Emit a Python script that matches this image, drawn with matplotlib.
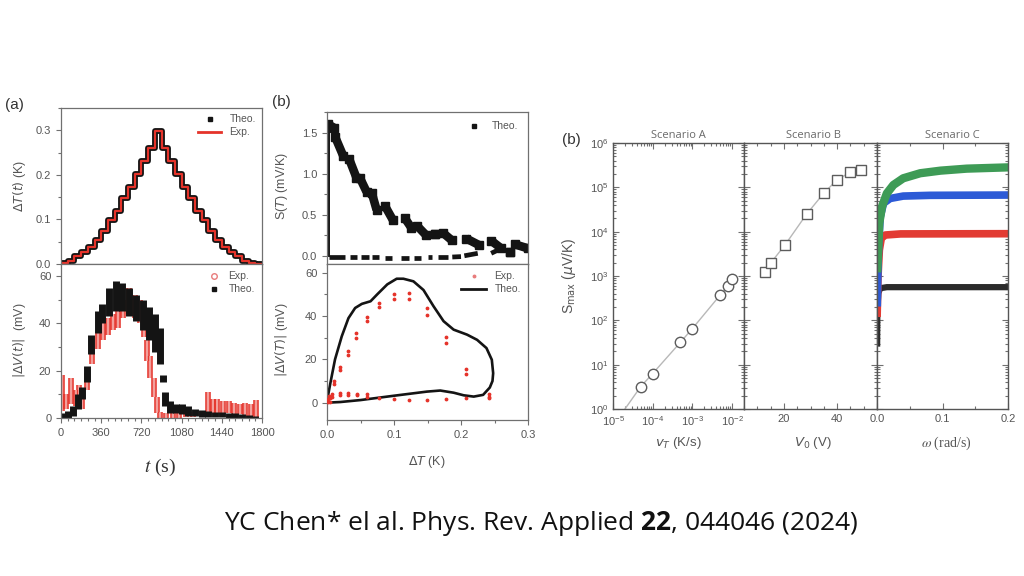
"""Recreation of the thermoelectric response panels with citation line."""

import matplotlib

matplotlib.use("Agg")

import matplotlib.pyplot as plt
from matplotlib.lines import Line2D
from matplotlib.ticker import LogLocator, MultipleLocator, NullFormatter, FixedLocator

W, H = 1024, 576

C_INK = "#141414"
C_TEXT = "#555555"
C_EDGE = "#707070"
C_RED = "#e5332a"
C_PINK = "#e87c7c"
C_LINE = "#b8b8b8"
C_MARK = "#5c5c5c"
C_GREEN = "#3e9b56"
C_BLUE = "#2c5ad6"
C_CRED = "#e23b33"
C_BLACK = "#2b2b2b"

# (a) top: temperature staircase, one level per 60 s step
STEP_T = [0, 60, 120, 180, 240, 300, 360, 420, 480, 540, 600, 660, 720, 780, 840,
          900, 960, 1020, 1080, 1140, 1200, 1260, 1320, 1380, 1440, 1500, 1560, 1620, 1680, 1740]
DT_LEVEL = [0.0015, 0.0075, 0.017, 0.028, 0.039, 0.054, 0.075, 0.098, 0.12, 0.147, 0.173,
            0.203, 0.23, 0.26, 0.298, 0.26, 0.23, 0.203, 0.173, 0.147, 0.12, 0.098, 0.075,
            0.054, 0.039, 0.028, 0.017, 0.0075, 0.0015, 0.0]

# (a) bottom: |dV(t)| clouds, one column per time slot (low / high)
THEO_T = [15, 60, 105, 150, 190, 232, 270, 330, 370, 430, 489, 550, 610, 670, 730, 790,
          845, 890, 913, 935, 980, 1030, 1080, 1140, 1200, 1260, 1320, 1380, 1440, 1500,
          1560, 1620, 1680, 1740]
THEO_LO = [0, 0, 1, 4, 8, 15, 27, 36, 40, 43, 45, 45, 43, 41, 37, 33, 28, 23, 15, 5, 2, 2,
           1.5, 1, 1, 0.5, 0.5, 0.3, 0.3, 0.2, 0.2, 0.1, 0.1, 0]
THEO_HI = [2, 3, 5, 10, 13, 22, 35, 45, 48, 55, 58, 57, 55, 52, 50, 47, 44, 38, 18, 11, 7,
           6, 6, 5, 4, 3.5, 3, 2.5, 2.5, 2, 2, 1.5, 1.2, 1]

EXP_T = [12, 44, 89, 133, 163, 190, 230, 280, 330, 375, 420, 465, 510, 555, 610, 665, 710,
         740, 770, 800, 830, 860, 890, 940, 1000, 1060, 1120, 1180, 1240, 1319, 1360, 1400,
         1450, 1500, 1550, 1600, 1650, 1700, 1750]
EXP_LO = [3, 4, 6, 5, 7, 4, 12, 23, 29, 33, 35, 37, 38, 42, 44, 42, 40, 34, 24, 17, 9, 2, 0,
          0, 0, 0, 0.5, 0.5, 1, 2, 2, 2, 2, 2, 1.5, 1.5, 1, 1, 0.5]
EXP_HI = [18, 10, 17, 12, 14, 9, 19, 29, 36, 40, 42, 44, 47, 50, 55, 52, 50, 45, 33, 26, 17,
          9, 2.5, 2, 2, 2, 2, 2.5, 3, 11, 8, 8, 7, 7, 6.5, 6, 6.5, 6, 7.5]

# (b) top: S(T) branches drawn as short thick dashes (x0, x1, y0, y1)
UP_X0 = [0.002, 0.012, 0.033, 0.049, 0.067, 0.087, 0.116, 0.135, 0.161, 0.173, 0.208, 0.245, 0.273, 0.28]
UP_X1 = [0.010, 0.024, 0.044, 0.059, 0.074, 0.098, 0.126, 0.148, 0.161, 0.186, 0.227, 0.26, 0.273, 0.30]
UP_Y0 = [1.60, 1.45, 1.18, 0.95, 0.76, 0.60, 0.46, 0.36, 0.27, 0.28, 0.21, 0.185, 0.05, 0.14]
UP_Y1 = [1.56, 1.22, 0.95, 0.78, 0.56, 0.44, 0.34, 0.25, 0.27, 0.19, 0.13, 0.09, 0.05, 0.09]
LO_X0 = [0.003, 0.035, 0.05, 0.067, 0.087, 0.11, 0.13, 0.15, 0.165, 0.187, 0.205, 0.245]
LO_X1 = [0.027, 0.045, 0.062, 0.077, 0.097, 0.122, 0.14, 0.157, 0.18, 0.2, 0.225, 0.263]
LO_Y0 = [-0.01, -0.02, -0.02, -0.02, -0.025, -0.025, -0.025, -0.02, -0.02, -0.015, 0.0, 0.03]
LO_Y1 = [-0.01, -0.02, -0.02, -0.02, -0.025, -0.025, -0.025, -0.02, -0.02, -0.01, 0.03, 0.1]
S_RISE_X = [0.0025, 0.0025]
S_RISE_Y = [0.0, 1.58]

# (b) bottom: hysteresis loop and measured points
LOOP_DT = [0.0, 0.002, 0.005, 0.012, 0.022, 0.032, 0.042, 0.052, 0.065, 0.075, 0.09, 0.104,
           0.114, 0.129, 0.144, 0.159, 0.174, 0.189, 0.209, 0.224, 0.238, 0.246, 0.248, 0.247,
           0.243, 0.233, 0.219, 0.204, 0.189, 0.169, 0.149, 0.1, 0.05, 0.02, 0.0]
LOOP_DV = [0.0, 4.0, 9.0, 20.0, 30.6, 39.0, 43.7, 45.6, 46.8, 50.0, 54.6, 57.2, 57.2, 56.0,
           52.0, 44.5, 37.6, 33.7, 31.4, 29.0, 25.2, 19.8, 13.6, 10.0, 7.0, 3.6, 2.8, 3.4,
           4.6, 5.6, 5.1, 3.2, 1.2, 0.3, 0.0]
PTS_DT = [0.011, 0.011, 0.019, 0.019, 0.031, 0.031, 0.044, 0.044, 0.06, 0.06, 0.078, 0.078,
          0.1, 0.1, 0.123, 0.123, 0.149, 0.149, 0.178, 0.178, 0.208, 0.208, 0.242, 0.242,
          0.004, 0.004, 0.008, 0.008, 0.019, 0.019, 0.031, 0.031, 0.045, 0.045, 0.06, 0.06,
          0.078, 0.1, 0.123, 0.149, 0.178, 0.208, 0.242, 0.001, 0.002, 0.003, 0.005]
PTS_DV = [8.5, 10.0, 15.0, 16.5, 22.0, 24.0, 30.0, 32.0, 37.5, 39.5, 44.0, 46.0, 48.0, 50.0,
          48.0, 50.5, 40.5, 43.5, 27.5, 30.5, 13.0, 15.5, 2.5, 4.0, 0.5, 2.5, 2.5, 4.0, 3.5,
          4.5, 3.5, 4.5, 3.5, 4.0, 2.5, 4.0, 2.2, 1.5, 1.2, 1.2, 1.7, 2.2, 2.2, 0.5, 1.5, 3.0, 2.0]

# (c) Scenario A: S_max vs heating rate
VT_A = [5e-5, 1e-4, 5e-4, 1e-3, 5e-3, 8e-3, 1e-2]
SMAX_A = [3.2, 6.3, 32, 65, 370, 600, 850]
VT_A_LINE_START = 2e-5
SMAX_A_LINE_START = 1.0
# Scenario B: S_max vs bias voltage
V0_B = [13, 15, 20.5, 28.5, 35, 40, 45, 49]
SMAX_B = [1200, 1950, 5100, 24700, 74000, 148000, 220000, 250000]
# Scenario C: S_max vs angular frequency, four curves
OMEGA_G = [0.0005, 0.0015, 0.0035, 0.0076, 0.015, 0.025, 0.04, 0.066, 0.097, 0.137, 0.2]
SMAX_G = [1500, 3200, 15500, 36600, 73000, 113000, 160000, 208000, 238000, 264000, 282000]
OMEGA_B = [0.0005, 0.001, 0.0025, 0.005, 0.01, 0.02, 0.04, 0.081, 0.2]
SMAX_B_C = [250, 690, 5400, 21700, 43700, 56000, 63500, 66000, 67000]
OMEGA_R = [0.0003, 0.0015, 0.0036, 0.0066, 0.0127, 0.036, 0.2]
SMAX_R = [145, 960, 3850, 7100, 8400, 8900, 9000]
OMEGA_K = [0.0002, 0.0005, 0.002, 0.005, 0.015, 0.2]
SMAX_K = [30, 170, 410, 530, 560, 560]


def _rect(left, top, right, bottom):
    return [left / W, 1 - bottom / H, (right - left) / W, (bottom - top) / H]


def _ft(fig, x, y, s, **kw):
    kw.setdefault("ha", "center")
    kw.setdefault("va", "center")
    return fig.text(x / W, 1 - y / H, s, **kw)


def _style_axis(ax, direction="out"):
    for spine in ax.spines.values():
        spine.set_color(C_EDGE)
        spine.set_linewidth(0.9)
    ax.tick_params(which="both", colors=C_EDGE, labelcolor=C_TEXT, labelsize=8,
                   direction=direction, width=0.8)
    ax.tick_params(which="major", length=3.5)
    ax.tick_params(which="minor", length=2)


def draw_panel_a(fig):
    ax1 = fig.add_axes(_rect(61, 108, 262, 264))
    ax2 = fig.add_axes(_rect(61, 264, 262, 418))
    for ax in (ax1, ax2):
        _style_axis(ax)
        ax.set_xlim(0, 1800)
        ax.xaxis.set_major_locator(MultipleLocator(360))
        ax.xaxis.set_minor_locator(MultipleLocator(60))

    t_edges = STEP_T + [1800]
    lv = DT_LEVEL + [DT_LEVEL[-1]]
    ax1.step(t_edges, lv, where="post", color=C_INK, lw=4.2)
    ax1.step(t_edges, lv, where="post", color=C_RED, lw=1.6)
    ax1.set_ylim(0, 0.35)
    ax1.yaxis.set_major_locator(MultipleLocator(0.1))
    ax1.yaxis.set_minor_locator(MultipleLocator(0.05))
    ax1.yaxis.set_major_formatter(lambda v, p: f"{v:.1f}")
    ax1.tick_params(labelbottom=False)
    h1 = [Line2D([], [], marker="s", ms=3.2, color=C_INK, ls="none"),
          Line2D([], [], color=C_RED, lw=2)]
    ax1.legend(h1, ["Theo.", "Exp."], loc="upper right", frameon=False, fontsize=7.5,
               handlelength=2.2, borderaxespad=0.2, labelspacing=0.3, labelcolor=C_TEXT)

    ax2.vlines(EXP_T, EXP_LO, EXP_HI, color=C_RED, lw=4.2, alpha=0.85)
    ax2.vlines(EXP_T, EXP_LO, EXP_HI, color="white", lw=1.3, alpha=0.5)
    ax2.vlines(THEO_T, THEO_LO, THEO_HI, color=C_INK, lw=5.0)
    ax2.set_ylim(0, 65)
    ax2.yaxis.set_major_locator(MultipleLocator(20))
    ax2.yaxis.set_minor_locator(MultipleLocator(10))
    h2 = [Line2D([], [], marker="o", ms=4, mfc="none", mec=C_PINK, ls="none"),
          Line2D([], [], marker="s", ms=3.2, color=C_INK, ls="none")]
    ax2.legend(h2, ["Exp.", "Theo."], loc="upper right", frameon=False, fontsize=7.5,
               handlelength=1.2, borderaxespad=0.3, labelspacing=0.3, labelcolor=C_TEXT)

    _ft(fig, 14, 105, "(a)", fontsize=11, color="#333333")
    _ft(fig, 19, 186, r"$\Delta T(t)$ (K)", rotation=90, fontsize=9, color=C_TEXT,
        math_fontfamily="dejavusans")
    _ft(fig, 19, 340, r"$|\Delta V(t)|$  (mV)", rotation=90, fontsize=9, color=C_TEXT,
        math_fontfamily="dejavusans")
    _ft(fig, 160, 467, r"$t$ (s)", fontsize=14, color="#333333", family="Liberation Serif",
        math_fontfamily="stix")


def draw_panel_b(fig):
    ax1 = fig.add_axes(_rect(327, 112, 528, 264))
    ax2 = fig.add_axes(_rect(327, 264, 528, 420))
    for ax in (ax1, ax2):
        _style_axis(ax)
        ax.set_xlim(0, 0.3)
        ax.xaxis.set_major_locator(MultipleLocator(0.1))
        ax.xaxis.set_minor_locator(MultipleLocator(0.05))
        ax.xaxis.set_major_formatter(lambda v, p: f"{v:.1f}")

    ax1.plot(S_RISE_X, S_RISE_Y, color=C_INK, lw=1.4)
    for x0, x1, y0, y1 in zip(UP_X0, UP_X1, UP_Y0, UP_Y1):
        ax1.plot([x0, x1], [y0, y1], color=C_INK, lw=6.2, marker="s", ms=5.5,
                 solid_capstyle="butt")
    for x0, x1, y0, y1 in zip(LO_X0, LO_X1, LO_Y0, LO_Y1):
        ax1.plot([x0, x1], [y0, y1], color=C_INK, lw=3.4, solid_capstyle="butt")
    ax1.set_ylim(-0.1, 1.75)
    ax1.yaxis.set_major_locator(MultipleLocator(0.5))
    ax1.yaxis.set_minor_locator(MultipleLocator(0.25))
    ax1.yaxis.set_major_formatter(lambda v, p: f"{v:.1f}")
    ax1.tick_params(labelbottom=False)
    ax1.legend([Line2D([], [], marker="s", ms=3.2, color=C_INK, ls="none")], ["Theo."],
               loc="upper right", frameon=False, fontsize=7.5, handlelength=2.0,
               borderaxespad=0.5, labelcolor=C_TEXT)

    ax2.plot(LOOP_DT, LOOP_DV, color=C_INK, lw=1.9)
    ax2.scatter(PTS_DT, PTS_DV, s=3, color=C_RED, zorder=3)
    ax2.set_ylim(-8, 64)
    ax2.yaxis.set_major_locator(MultipleLocator(20))
    ax2.yaxis.set_minor_locator(MultipleLocator(10))
    h2 = [Line2D([], [], marker="o", ms=1.8, color=C_PINK, ls="none"),
          Line2D([], [], color=C_INK, lw=2)]
    ax2.legend(h2, ["Exp.", "Theo."], loc="upper right", frameon=False, fontsize=7.5,
               handlelength=2.4, borderaxespad=0.3, labelspacing=0.3, labelcolor=C_TEXT)

    _ft(fig, 281, 102, "(b)", fontsize=11, color="#333333")
    _ft(fig, 282, 186, r"S($T$) (mV/K)", rotation=90, fontsize=9, color=C_TEXT,
        math_fontfamily="dejavusans")
    _ft(fig, 282, 340, r"$|\Delta V(T)|$ (mV)", rotation=90, fontsize=9, color=C_TEXT,
        math_fontfamily="dejavusans")
    _ft(fig, 427, 462, r"$\Delta T$ (K)", fontsize=9, color=C_TEXT,
        math_fontfamily="dejavusans")


def _log_y(ax, labels):
    ax.set_yscale("log")
    ax.set_ylim(1, 1e6)
    ax.yaxis.set_major_locator(LogLocator(base=10, numticks=10))
    ax.yaxis.set_minor_locator(LogLocator(base=10, subs=range(2, 10), numticks=10))
    ax.yaxis.set_minor_formatter(NullFormatter())
    if not labels:
        ax.yaxis.set_major_formatter(NullFormatter())
    ax.tick_params(which="both", right=True, top=True)
    ax.tick_params(which="major", length=4.5)
    ax.tick_params(which="minor", length=2.5)


def draw_panel_c(fig):
    axa = fig.add_axes(_rect(613, 143, 744, 409))
    axb = fig.add_axes(_rect(744, 143, 877, 409))
    axc = fig.add_axes(_rect(877, 143, 1008, 409))
    for ax in (axa, axb, axc):
        _style_axis(ax, direction="in")
        for spine in ax.spines.values():
            spine.set_color("#555555")
            spine.set_linewidth(1.0)
    _log_y(axa, True)
    _log_y(axb, False)
    _log_y(axc, False)

    axa.set_xscale("log")
    axa.set_xlim(1e-5, 2e-2)
    axa.xaxis.set_major_locator(FixedLocator([1e-5, 1e-4, 1e-3, 1e-2]))
    axa.xaxis.set_minor_locator(LogLocator(base=10, subs=range(2, 10), numticks=10))
    axa.xaxis.set_minor_formatter(NullFormatter())
    axa.plot([VT_A_LINE_START] + VT_A, [SMAX_A_LINE_START] + SMAX_A, color=C_LINE, lw=1.0)
    axa.plot(VT_A, SMAX_A, ls="none", marker="o", ms=7.5, mfc="white", mec=C_MARK, mew=1.0)

    axb.set_xlim(5, 55)
    axb.xaxis.set_major_locator(FixedLocator([20, 40]))
    axb.xaxis.set_minor_locator(MultipleLocator(5))
    axb.plot(V0_B, SMAX_B, color=C_LINE, lw=1.0)
    axb.plot(V0_B, SMAX_B, ls="none", marker="s", ms=6.5, mfc="white", mec=C_MARK, mew=1.0)

    axc.set_xlim(0, 0.2)
    axc.xaxis.set_major_locator(MultipleLocator(0.1))
    axc.xaxis.set_minor_locator(MultipleLocator(0.05))
    axc.xaxis.set_major_formatter(lambda v, p: f"{v:.1f}")
    axc.plot(OMEGA_K, SMAX_K, color=C_BLACK, lw=4.5)
    axc.plot(OMEGA_R, SMAX_R, color=C_CRED, lw=5.5)
    axc.plot(OMEGA_B, SMAX_B_C, color=C_BLUE, lw=5.5)
    axc.plot(OMEGA_G, SMAX_G, color=C_GREEN, lw=6)

    for x, name in ((678, "Scenario A"), (813, "Scenario B"), (952, "Scenario C")):
        _ft(fig, x, 136, name, fontsize=8, color="#6a6a6a", family="Open Sans")
    _ft(fig, 571, 140, "(b)", fontsize=11, color="#333333")
    _ft(fig, 569, 276, r"S$_{\rm max}$ ($\mu$V/K)", rotation=90, fontsize=10, color=C_TEXT,
        math_fontfamily="dejavusans")
    _ft(fig, 678, 443, r"$v_T$ (K/s)", fontsize=9.5, color=C_TEXT,
        math_fontfamily="dejavusans")
    _ft(fig, 813, 443, r"$V_0$ (V)", fontsize=9.5, color=C_TEXT,
        math_fontfamily="dejavusans")
    _ft(fig, 946, 443, r"$\omega$ (rad/s)", fontsize=10, color=C_TEXT,
        family="Liberation Serif", math_fontfamily="stix")


def main():
    plt.rcParams.update({
        "font.family": ["Liberation Sans", "DejaVu Sans"],
        "mathtext.fontset": "dejavusans",
        "mathtext.bf": "Open Sans:bold",
    })
    fig = plt.figure(figsize=(W / 100, H / 100), dpi=100)
    fig.patch.set_facecolor("white")
    draw_panel_a(fig)
    draw_panel_b(fig)
    draw_panel_c(fig)
    _ft(fig, 541, 524, r"YC Chen* el al. Phys. Rev. Applied $\mathbf{22}$, 044046 (2024)",
        fontsize=19, color="#111111", family="Open Sans", math_fontfamily="custom")
    fig.savefig("out.png", dpi=100, facecolor="white")
    plt.close(fig)


if __name__ == "__main__":
    main()
